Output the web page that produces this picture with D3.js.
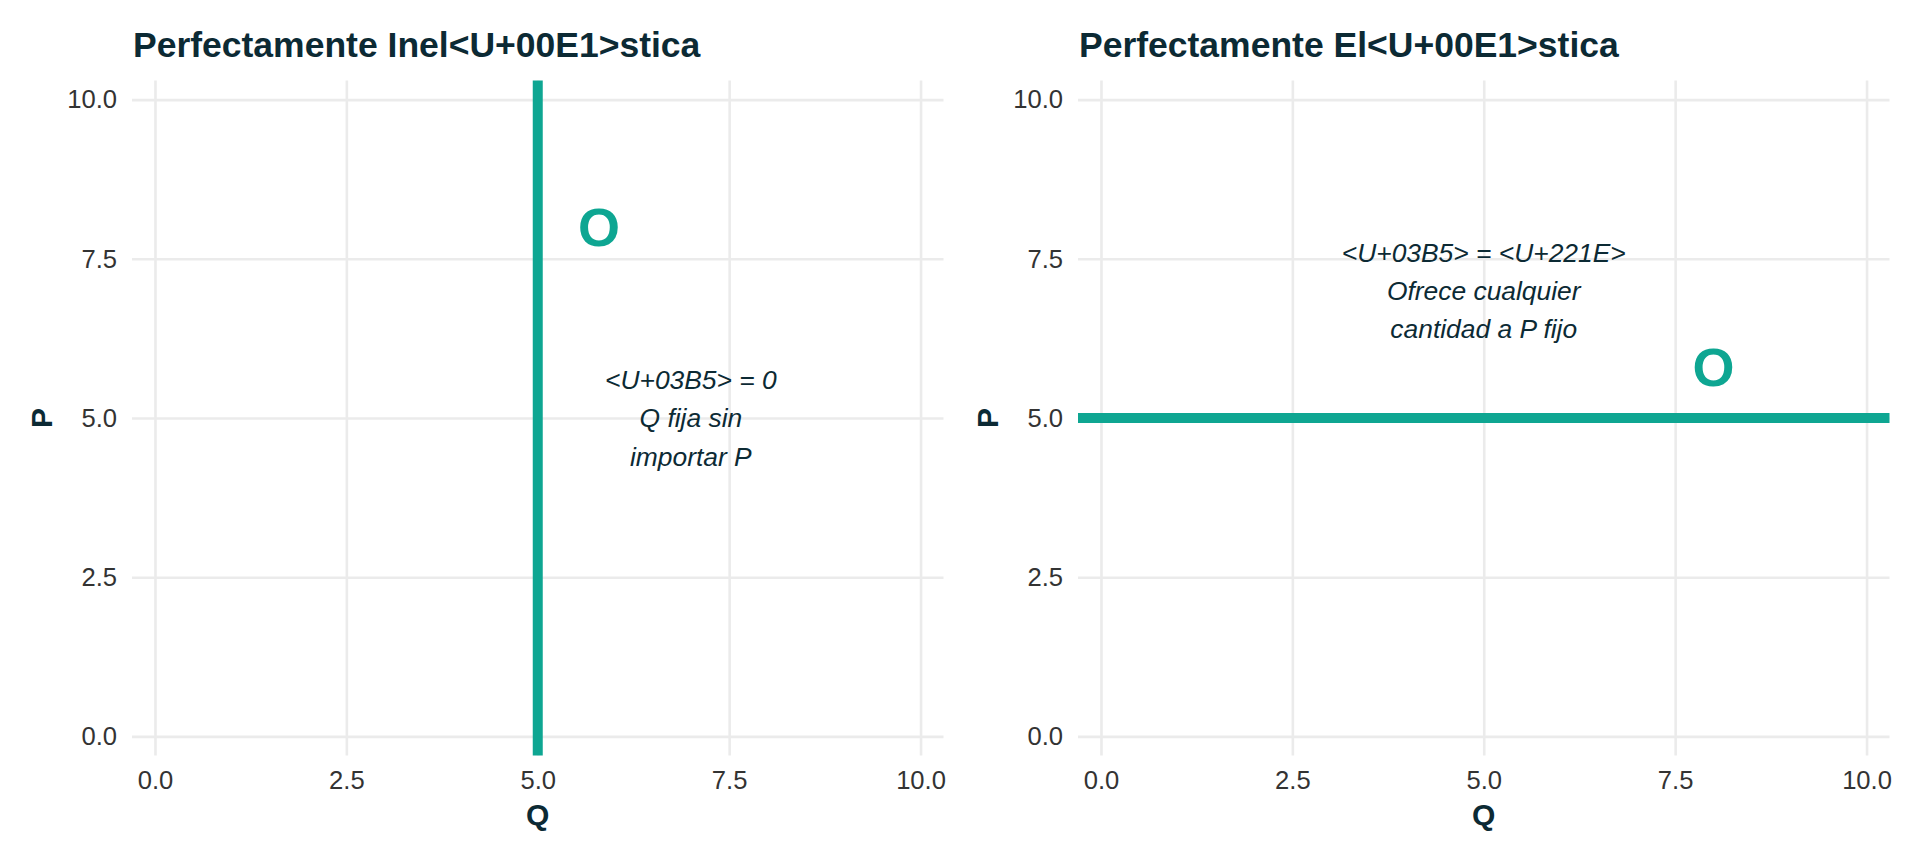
<!DOCTYPE html>
<html>
<head>
<meta charset="utf-8">
<script src="https://cdn.jsdelivr.net/npm/d3@7"></script>
<style>
  html, body { margin: 0; padding: 0; background: #ffffff; }
  svg { display: block; }
</style>
</head>
<body>
<svg id="chart" width="1920" height="864"></svg>
<script>
// ---- data ----
const panelTitles = ["Perfectamente Inel<U+00E1>stica", "Perfectamente El<U+00E1>stica"];
const tickValues = [0, 2.5, 5, 7.5, 10];
const tickLabels = ["0.0", "2.5", "5.0", "7.5", "10.0"];
const xTitle = "Q";
const yTitle = "P";
const inelasticQ = [5];          // vertical supply line at Q = 5
const elasticP = [5];            // horizontal supply line at P = 5
const curveLabel = "O";
const labelPosLeft = [5.8, 8];   // [Q, P]
const labelPosRight = [8, 5.8];
const noteLeftPos = [7, 5];
const noteLeftLines = ["<U+03B5> = 0", "Q fija sin", "importar P"];
const noteRightPos = [5, 7];
const noteRightLines = ["<U+03B5> = <U+221E>", "Ofrece cualquier", "cantidad a P fijo"];

// ---- styling ----
const teal = "#0ea692";
const dark = "#0c2a34";
const tickColor = "#333333";
const gridColor = "#ebebeb";
const font = "'Liberation Sans', Arial, Helvetica, sans-serif";

const svg = d3.select("#chart");
const domain = [-0.3, 10.3];
const panelTop = 80.5, panelBottom = 755.5;

const panels = [
  { left: 132, right: 943.5, title: panelTitles[0] },
  { left: 1078, right: 1889.5, title: panelTitles[1] }
];

panels.forEach((p, i) => {
  const x = d3.scaleLinear().domain(domain).range([p.left, p.right]);
  const y = d3.scaleLinear().domain(domain).range([panelBottom, panelTop]);
  const g = svg.append("g");

  // x axis with gridlines
  const xAxis = d3.axisBottom(x).tickValues(tickValues)
    .tickFormat((d, k) => tickLabels[k])
    .tickSize(-(panelBottom - panelTop)).tickPadding(15.5);
  const gx = g.append("g").attr("transform", `translate(0,${panelBottom})`).call(xAxis);
  gx.select(".domain").remove();
  gx.selectAll("line").attr("stroke", gridColor).attr("stroke-width", 2.6);
  gx.selectAll("text").attr("fill", tickColor).style("font-family", font).style("font-size", "25.6px");

  // y axis with gridlines
  const yAxis = d3.axisLeft(y).tickValues(tickValues)
    .tickFormat((d, k) => tickLabels[k])
    .tickSize(-(p.right - p.left)).tickPadding(15);
  const gy = g.append("g").attr("transform", `translate(${p.left},0)`).call(yAxis);
  gy.select(".domain").remove();
  gy.selectAll("line").attr("stroke", gridColor).attr("stroke-width", 2.6);
  gy.selectAll("text").attr("fill", tickColor).style("font-family", font).style("font-size", "25.6px");

  // supply line
  if (i === 0) {
    g.selectAll(".vline").data(inelasticQ).enter().append("line")
      .attr("x1", d => x(d)).attr("x2", d => x(d))
      .attr("y1", panelTop).attr("y2", panelBottom)
      .attr("stroke", teal).attr("stroke-width", 10);
  } else {
    g.selectAll(".hline").data(elasticP).enter().append("line")
      .attr("x1", p.left).attr("x2", p.right)
      .attr("y1", d => y(d)).attr("y2", d => y(d))
      .attr("stroke", teal).attr("stroke-width", 10);
  }

  // "O" label
  const lp = i === 0 ? labelPosLeft : labelPosRight;
  g.append("text").attr("x", x(lp[0])).attr("y", y(lp[1]))
    .attr("text-anchor", "middle").attr("dy", "0.36em")
    .attr("fill", teal).style("font-family", font).style("font-weight", "bold")
    .style("font-size", "54px").text(curveLabel);

  // annotation
  const np = i === 0 ? noteLeftPos : noteRightPos;
  const lines = i === 0 ? noteLeftLines : noteRightLines;
  const lh = 38.3;
  const t = g.append("text").attr("text-anchor", "middle")
    .attr("fill", dark).style("font-family", font).style("font-style", "italic")
    .style("font-size", "26.4px");
  lines.forEach((s, k) => {
    t.append("tspan").attr("x", x(np[0]))
      .attr("y", y(np[1]) + (k - (lines.length - 1) / 2) * lh)
      .attr("dy", "0.35em").text(s);
  });

  // titles
  g.append("text").attr("x", p.left + 1).attr("y", 57)
    .attr("fill", dark).style("font-family", font).style("font-weight", "bold")
    .style("font-size", "35.5px").text(p.title);

  g.append("text").attr("x", (p.left + p.right) / 2).attr("y", 825)
    .attr("text-anchor", "middle").attr("fill", dark)
    .style("font-family", font).style("font-weight", "bold").style("font-size", "30px")
    .text(xTitle);

  const yc = (panelTop + panelBottom) / 2;
  const px = p.left - 91;
  g.append("text").attr("transform", `translate(${px},${yc}) rotate(-90)`)
    .attr("text-anchor", "middle").attr("dy", "0.36em").attr("fill", dark)
    .style("font-family", font).style("font-weight", "bold").style("font-size", "30px")
    .text(yTitle);
});
</script>
</body>
</html>
